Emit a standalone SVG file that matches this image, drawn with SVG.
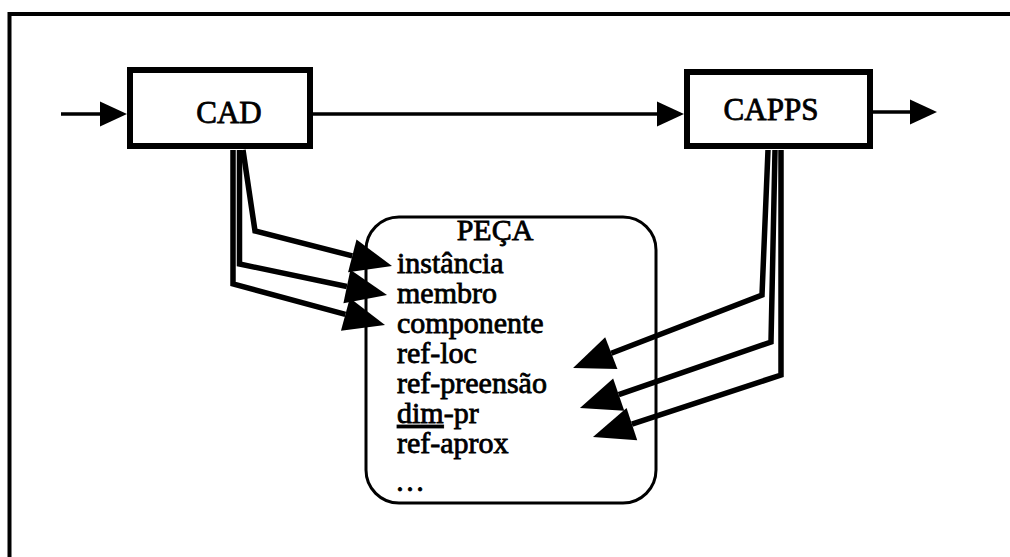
<svg xmlns="http://www.w3.org/2000/svg" width="1010" height="557" viewBox="0 0 1010 557">
  <defs>
    <style>
      .frame { fill: none; stroke: #000; stroke-width: 4; }
      .box { fill: #fff; stroke: #000; stroke-width: 6; }
      .peca { fill: none; stroke: #000; stroke-width: 3; }
      .flow { fill: none; stroke: #000; stroke-width: 3.5; }
      .link { fill: none; stroke: #000; stroke-width: 5.5; stroke-linejoin: miter; }
      .lbl { font-family: "Liberation Serif", "Times New Roman", serif; font-size: 31px; fill: #000; stroke: #000; stroke-width: 0.8; }
      .item { font-family: "Liberation Serif", "Times New Roman", serif; font-size: 30px; fill: #000; stroke: #000; stroke-width: 0.8; }
    </style>
    <marker id="small" markerUnits="userSpaceOnUse" markerWidth="27" markerHeight="25" viewBox="0 0 27 25" refX="0" refY="12.5" orient="auto" overflow="visible">
      <path d="M0,0 L27,12.5 L0,25 z" fill="#000"/>
    </marker>
    <marker id="big" markerUnits="userSpaceOnUse" markerWidth="41" markerHeight="34" viewBox="0 0 41 34" refX="0" refY="17" orient="auto" overflow="visible">
      <path d="M0,0 L41,17 L0,34 z" fill="#000"/>
    </marker>
  </defs>

  <g id="frame">
    <path class="frame" d="M9.5,557 L9.5,14 L1010,14"/>
  </g>

  <g id="cad">
    <rect class="box" x="130" y="70" width="180" height="76"/>
    <text class="lbl" x="229" y="123" text-anchor="middle">CAD</text>
  </g>

  <g id="capps">
    <rect class="box" x="687" y="72" width="183" height="74"/>
    <text class="lbl" x="771" y="120" text-anchor="middle">CAPPS</text>
  </g>

  <g id="peca">
    <rect class="peca" x="366" y="217" width="290" height="286" rx="33" ry="33"/>
    <text class="item" x="495" y="240" text-anchor="middle">PEÇA</text>
    <text class="item" x="397" y="273">instância</text>
    <text class="item" x="397" y="303">membro</text>
    <text class="item" x="397" y="333">componente</text>
    <text class="item" x="397" y="363">ref-loc</text>
    <text class="item" x="397" y="393">ref-preensão</text>
    <text class="item" x="397" y="423"><tspan text-decoration="underline">dim</tspan>-pr</text>
    <text class="item" x="397" y="453">ref-aprox</text>
    <text class="item" x="395" y="491">…</text>
  </g>

  <g id="connectors">
    <path class="flow" d="M61,114 L100,114" marker-end="url(#small)"/>
    <path class="flow" d="M313,114 L657,114" marker-end="url(#small)"/>
    <path class="flow" d="M873,112 L910,112" marker-end="url(#small)"/>

    <path class="link" d="M243,150 L255,231 L352.3,255.9" marker-end="url(#big)"/>
    <path class="link" d="M239.5,150 L239.5,264 L346.9,286.5" marker-end="url(#big)"/>
    <path class="link" d="M233,150 L233,284 L345.4,314.3" marker-end="url(#big)"/>

    <path class="link" d="M768,150 L762,295 L611.3,353.2" marker-end="url(#big)"/>
    <path class="link" d="M775,150 L771,342 L618.7,394.6" marker-end="url(#big)"/>
    <path class="link" d="M781,150 L781,375 L631.9,424.2" marker-end="url(#big)"/>
  </g>
</svg>
